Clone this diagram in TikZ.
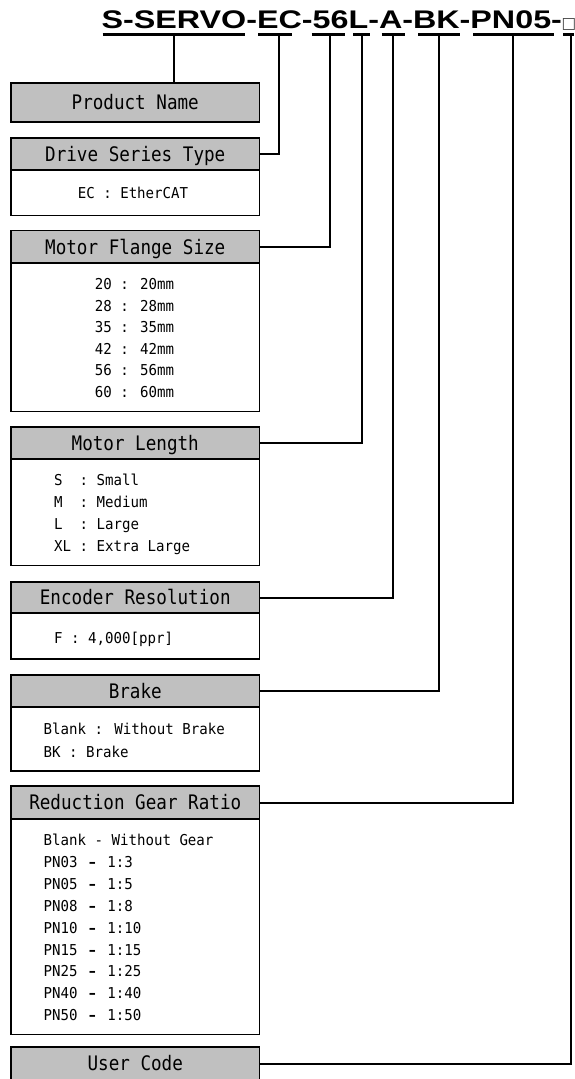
\documentclass[tikz,border=0pt]{standalone}
\usepackage{fontspec}
\usepackage{graphicx}
\setmainfont{Liberation Sans}
\newfontfamily\monofont{DejaVu Sans Mono}
\newfontfamily\symfont{DejaVu Sans}
\definecolor{headgray}{RGB}{192,192,192}
\newcommand\gdash{\makebox[0.9em][c]{\symfont\bfseries –}}
\newcommand\hd[1]{\scalebox{0.88}[1]{#1}}
\newcommand\bd[1]{\scalebox{0.94}[1]{#1}}
\begin{document}
\begin{tikzpicture}[x=1pt,y=1pt,
  boxline/.style={line width=1.9pt},
  head/.style={draw, boxline, fill=headgray, minimum width=248.5pt, inner sep=0pt, outer sep=0pt,
    font=\monofont\fontsize{20}{20}\selectfont, text height=14.8pt, text depth=0pt},
  body/.style={draw, boxline, fill=white, minimum width=248.5pt, inner sep=0pt, outer sep=0pt, anchor=north},
  btext/.style={font=\monofont\fontsize{15}{15}\selectfont, inner sep=0pt, anchor=base},
  bltext/.style={btext, anchor=base west},
  uline/.style={line width=3pt},
  conn/.style={line width=2pt},
]
\useasboundingbox[fill=white] (0,0) rectangle (575,-1079);

% title
\node[anchor=base west, inner sep=0pt, font=\bfseries\fontsize{25.5}{25.5}\selectfont] (title) at (101.4,-28)
  {\scalebox{1.266}[1]{S-SERVO-EC-56L-A-BK-PN05-}};
\node[anchor=base west, inner sep=0pt, font=\symfont\fontsize{15.5}{15.5}\selectfont, text=black!75] (usr) at (561.5,-28.5) {□};

% underlines
\draw[uline] (102.7,-34) -- (245,-34);
\draw[uline] (258.3,-34) -- (291.7,-34);
\draw[uline] (311.7,-34) -- (345,-34);
\draw[uline] (353.3,-34) -- (370,-34);
\draw[uline] (381.7,-34) -- (405,-34);
\draw[uline] (418.3,-34) -- (460,-34);
\draw[uline] (473.3,-34) -- (554,-34);
\draw[uline] (563,-34) -- (574,-34);

\coordinate (c1) at (174,-34);
\coordinate (c2) at (279,-34);
\coordinate (c3) at (330,-34);
\coordinate (c4) at (362,-34);
\coordinate (c5) at (393,-34);
\coordinate (c6) at (439,-34);
\coordinate (c7) at (513,-34);
\coordinate (c8) at (570.5,-34);

% bodies
\node[body, minimum height=45.5pt] (drivebody) at (135.25,-170) {};
\node[body, minimum height=148.5pt] (flangebody) at (135.25,-263) {};
\node[body, minimum height=106.5pt] (lengthbody) at (135.25,-459) {};
\node[body, minimum height=46pt] (encbody) at (135.25,-613) {};
\node[body, minimum height=64pt] (brakebody) at (135.25,-707) {};
\node[body, minimum height=215.5pt] (gearbody) at (135.25,-819) {};

% headers
\node[head, minimum height=39pt] (pn) at (135.25,-102.5) {\hd{Product Name}};
\node[head, minimum height=32pt] (drive) at (135.25,-154) {\hd{Drive Series Type}};
\node[head, minimum height=32.5pt] (flange) at (135.25,-246.75) {\hd{Motor Flange Size}};
\node[head, minimum height=32.5pt] (length) at (135.25,-443) {\hd{Motor Length}};
\node[head, minimum height=31.5pt] (enc) at (135.25,-597.5) {\hd{Encoder Resolution}};
\node[head, minimum height=32pt] (brake) at (135.25,-691) {\hd{Brake}};
\node[head, minimum height=33pt] (gear) at (135.25,-802.5) {\hd{Reduction Gear Ratio}};
\node[head, minimum height=33pt] (user) at (135.25,-1063.5) {\hd{User Code}};

% connectors
\draw[conn] (c1) -- (c1 |- pn.north);
\draw[conn] (c2) |- (drive.east);
\draw[conn] (c3) |- (flange.east);
\draw[conn] (c4) |- (length.east);
\draw[conn] (c5) |- (enc.east);
\draw[conn] (c6) |- (brake.east);
\draw[conn] (c7) |- (gear.east);
\draw[conn] (c8) |- (user.east);

% body texts
\node[btext] (d1) at (133,-198) {\bd{EC : EtherCAT}};

\foreach \t [count=\i from 0] in {20 : 20mm, 28 : 28mm, 35 : 35mm, 42 : 42mm, 56 : 56mm, 60 : 60mm}
  \node[btext] (f\i) at (134.5,-289.5-21.6*\i) {\bd{\t}};

\foreach \t [count=\i from 0] in {S~~: Small, M~~: Medium, L~~: Large, XL : Extra Large}
  \node[bltext] (l\i) at (54,-485.5-22*\i) {\bd{\t}};

\node[bltext] (e1) at (54,-643.5) {\bd{F : 4,000[ppr]}};

\node[bltext] (b1) at (43.5,-734.5) {\bd{Blank : Without Brake}};
\node[bltext] (b2) at (43.5,-757.5) {\bd{BK : Brake}};

\node[bltext] (g0) at (43.5,-845.5) {\bd{Blank - Without Gear}};
\foreach \a/\b [count=\i from 1] in {03/3, 05/5, 08/8, 10/10, 15/15, 25/25, 40/40, 50/50}
  \node[bltext] (g\i) at (43.5,-845.5-21.9*\i) {\bd{PN\a\ \gdash\ 1:\b}};
\end{tikzpicture}
\end{document}
